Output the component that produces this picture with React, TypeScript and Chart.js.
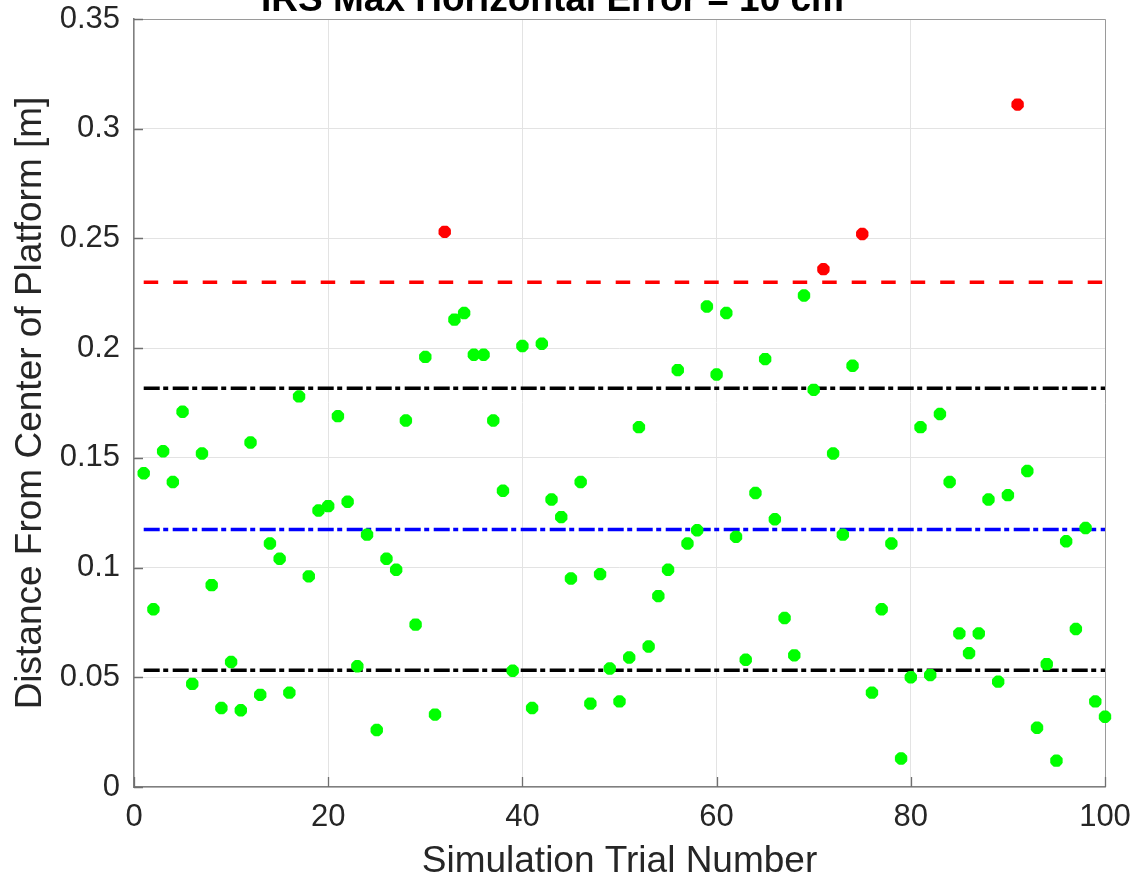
import React, { useEffect, useRef } from "react";
import { Chart, registerables } from "chart.js";

Chart.register(...registerables);

const titleText = "IRS Max Horizontal Error = 10 cm";
const xAxisLabel = "Simulation Trial Number";
const yAxisLabel = "Distance From Center of Platform [m]";

const trials = [
  1, 2, 3, 4, 5, 6, 7, 8, 9, 10, 11, 12, 13, 14, 15, 16, 17, 18, 19, 20,
  21, 22, 23, 24, 25, 26, 27, 28, 29, 30, 31, 32, 33, 34, 35, 36, 37, 38, 39, 40,
  41, 42, 43, 44, 45, 46, 47, 48, 49, 50, 51, 52, 53, 54, 55, 56, 57, 58, 59, 60,
  61, 62, 63, 64, 65, 66, 67, 68, 69, 70, 71, 72, 73, 74, 75, 76, 77, 78, 79, 80,
  81, 82, 83, 84, 85, 86, 87, 88, 89, 90, 91, 92, 93, 94, 95, 96, 97, 98, 99, 100,
];

const distances = [
  0.143, 0.081, 0.153, 0.139, 0.171, 0.047, 0.152, 0.092, 0.036, 0.057,
  0.035, 0.157, 0.042, 0.111, 0.104, 0.043, 0.178, 0.096, 0.126, 0.128,
  0.169, 0.130, 0.055, 0.115, 0.026, 0.104, 0.099, 0.167, 0.074, 0.196,
  0.033, 0.253, 0.213, 0.216, 0.197, 0.197, 0.167, 0.135, 0.053, 0.201,
  0.036, 0.202, 0.131, 0.123, 0.095, 0.139, 0.038, 0.097, 0.054, 0.039,
  0.059, 0.164, 0.064, 0.087, 0.099, 0.190, 0.111, 0.117, 0.219, 0.188,
  0.216, 0.114, 0.058, 0.134, 0.195, 0.122, 0.077, 0.060, 0.224, 0.181,
  0.236, 0.152, 0.115, 0.192, 0.252, 0.043, 0.081, 0.111, 0.013, 0.050,
  0.164, 0.051, 0.170, 0.139, 0.070, 0.061, 0.070, 0.131, 0.048, 0.133,
  0.311, 0.144, 0.027, 0.056, 0.012, 0.112, 0.072, 0.118, 0.039, 0.032,
];

// Reference lines (value) spanning the first to last trial
const lineSpan = [1, 100];
const thresholdValue = 0.23;
const meanValue = 0.1174;
const upperValue = 0.1817;
const lowerValue = 0.0532;

const xTicks = [0, 20, 40, 60, 80, 100];
const yTickLabels = ["0", "0.05", "0.1", "0.15", "0.2", "0.25", "0.3", "0.35"];

const FONT = "'Liberation Sans', Arial, Helvetica, sans-serif";
const TEXT = "#262626";

const boxPlugin = {
  id: "matlabBox",
  beforeDatasetsDraw(chart: any) {
    const { ctx, chartArea } = chart;
    const { left, right, top, bottom } = chartArea;
    const xs = chart.scales.x;
    const ys = chart.scales.y;
    ctx.save();
    // top and right box edges
    ctx.strokeStyle = "#9a9a9a";
    ctx.lineWidth = 1;
    ctx.beginPath();
    ctx.moveTo(left, top + 0.5);
    ctx.lineTo(right + 0.5, top + 0.5);
    ctx.lineTo(right + 0.5, bottom);
    ctx.stroke();
    // inward tick marks
    ctx.strokeStyle = "#6f6f6f";
    ctx.lineWidth = 1.3;
    ctx.beginPath();
    xs.ticks.forEach((t: any) => {
      const px = Math.round(xs.getPixelForValue(t.value)) + 0.5;
      ctx.moveTo(px, bottom);
      ctx.lineTo(px, bottom - 10);
    });
    ys.ticks.forEach((t: any) => {
      const py = Math.round(ys.getPixelForValue(t.value)) + 0.5;
      ctx.moveTo(left, py);
      ctx.lineTo(left + 9, py);
    });
    ctx.stroke();
    ctx.restore();
  },
};

export default function App() {
  const canvasRef = useRef<HTMLCanvasElement | null>(null);

  useEffect(() => {
    if (!canvasRef.current) return;
    const points = trials.map((t, i) => ({ x: t, y: distances[i] }));
    const hline = (v: number) => lineSpan.map((x) => ({ x, y: v }));
    const markColor = (c: any) =>
      c.raw && c.raw.y > thresholdValue ? "#ff0000" : "#00ff00";

    const chart = new Chart(canvasRef.current, {
      type: "scatter",
      data: {
        datasets: [
          {
            label: "Trials",
            data: points,
            pointStyle: "star",
            pointRadius: 6.2,
            pointBorderWidth: 4.6,
            pointBorderColor: markColor,
            pointBackgroundColor: markColor,
            showLine: false,
            clip: false,
            order: 0,
          } as any,
          {
            type: "line",
            label: "Threshold",
            data: hline(thresholdValue),
            borderColor: "#ff0000",
            borderWidth: 3.5,
            borderDash: [14.5, 15],
            pointRadius: 0,
            order: 1,
          } as any,
          {
            type: "line",
            label: "Upper",
            data: hline(upperValue),
            borderColor: "#000000",
            borderWidth: 3.5,
            borderDash: [16, 3.5, 5, 4.5],
            pointRadius: 0,
            order: 1,
          } as any,
          {
            type: "line",
            label: "Mean",
            data: hline(meanValue),
            borderColor: "#0000ff",
            borderWidth: 3.5,
            borderDash: [16, 3.5, 5, 4.5],
            pointRadius: 0,
            order: 1,
          } as any,
          {
            type: "line",
            label: "Lower",
            data: hline(lowerValue),
            borderColor: "#000000",
            borderWidth: 3.5,
            borderDash: [16, 3.5, 5, 4.5],
            pointRadius: 0,
            order: 1,
          } as any,
        ],
      },
      options: {
        animation: false,
        responsive: true,
        maintainAspectRatio: false,
        layout: { padding: { left: 0, right: 32, top: 0, bottom: 0 } },
        plugins: {
          legend: { display: false },
          tooltip: { enabled: false },
          title: {
            display: true,
            text: titleText,
            color: "#000000",
            font: { family: FONT, size: 37, weight: "bold", lineHeight: 1 },
            padding: { top: 22, bottom: 0 },
          },
        },
        scales: {
          x: {
            type: "linear",
            min: 0,
            max: 100,
            afterBuildTicks: (s: any) => {
              s.ticks = xTicks.map((v) => ({ value: v }));
            },
            afterFit: (s: any) => {
              s.height = 91;
              s.paddingLeft = 0;
              s.paddingRight = 0;
            },
            ticks: {
              color: TEXT,
              font: { family: FONT, size: 31, lineHeight: 1.2 },
              padding: 12,
              maxRotation: 0,
              callback: (v: any) => String(v),
            },
            grid: { color: "#e3e3e3", lineWidth: 1, drawTicks: false },
            border: { color: "#7f7f7f", width: 1.5 },
            title: {
              display: true,
              text: xAxisLabel,
              color: TEXT,
              font: { family: FONT, size: 37, lineHeight: 0.9 },
              padding: { top: 0, bottom: 0 },
            },
          },
          y: {
            type: "linear",
            min: 0,
            max: 0.35,
            afterBuildTicks: (s: any) => {
              s.ticks = yTickLabels.map((l) => ({ value: parseFloat(l) }));
            },
            afterFit: (s: any) => {
              s.width = 134;
              s.paddingTop = 0;
              s.paddingBottom = 0;
            },
            ticks: {
              color: TEXT,
              font: { family: FONT, size: 31, lineHeight: 1.2 },
              padding: 14,
              callback: (v: any) => {
                const idx = yTickLabels.findIndex(
                  (l) => Math.abs(parseFloat(l) - Number(v)) < 1e-9
                );
                return idx >= 0 ? yTickLabels[idx] : "";
              },
            },
            grid: { color: "#e3e3e3", lineWidth: 1, drawTicks: false },
            border: { color: "#7f7f7f", width: 1.5 },
            title: {
              display: true,
              text: yAxisLabel,
              color: TEXT,
              font: { family: FONT, size: 37, lineHeight: 1.2 },
              padding: { top: 9, bottom: 0 },
            },
          },
        },
      } as any,
      plugins: [boxPlugin],
    });
    return () => chart.destroy();
  }, []);

  return (
    <div
      style={{
        position: "absolute",
        left: 0,
        top: -40,
        width: 1137,
        height: 918,
        background: "#ffffff",
      }}
    >
      <canvas ref={canvasRef} />
    </div>
  );
}
